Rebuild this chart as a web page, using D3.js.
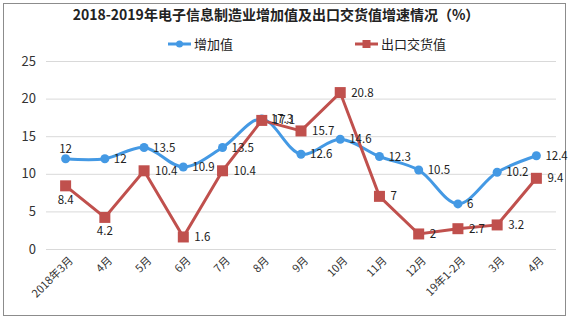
<!DOCTYPE html>
<html>
<head>
<meta charset="utf-8">
<script src="https://cdn.jsdelivr.net/npm/d3@7"></script>
<style>
  body { margin: 0; background: #fff; }
  text { font-family: "Noto Sans CJK SC", "DejaVu Sans", sans-serif; }
</style>
</head>
<body>
<div id="chart"></div>
<script>
// data
var months = ["2018年3月", "4月", "5月", "6月", "7月", "8月", "9月", "10月", "11月", "12月", "19年1-2月", "3月", "4月"];
var addedValue = [12, 12, 13.5, 10.9, 13.5, 17.3, 12.6, 14.6, 12.3, 10.5, 6, 10.2, 12.4];
var exportValue = [8.4, 4.2, 10.4, 1.6, 10.4, 17.1, 15.7, 20.8, 7, 2, 2.7, 3.2, 9.4];
var yTicks = [0, 5, 10, 15, 20, 25];

var svgWidth = 575, svgHeight = 322;
var margin = { top: 61, right: 19, bottom: 73, left: 46 };
var width = svgWidth - margin.left - margin.right;
var height = 249 - margin.top;

var blue = "#4499e4", red = "#c0504d";

var svg = d3.select("#chart").append("svg")
  .attr("width", svgWidth)
  .attr("height", svgHeight);

// outer frame
svg.append("rect")
  .attr("x", 3.5).attr("y", 3.5)
  .attr("width", 562).attr("height", 312)
  .attr("fill", "none")
  .attr("stroke", "#8c8c8c");

// title
svg.append("text")
  .attr("x", 276).attr("y", 20)
  .attr("text-anchor", "middle")
  .attr("font-size", "14px")
  .attr("font-weight", "bold")
  .attr("fill", "#222")
  .text("2018-2019年电子信息制造业增加值及出口交货值增速情况（%）");

// legend
var legendItems = [
  { name: "增加值", color: blue, x: 168, square: false },
  { name: "出口交货值", color: red, x: 355, square: true }
];
var legend = svg.selectAll(".legend")
  .data(legendItems)
  .enter().append("g")
  .attr("transform", d => `translate(${d.x}, 44)`);
legend.append("line")
  .attr("x1", 0).attr("x2", 23)
  .attr("stroke", d => d.color)
  .attr("stroke-width", 3);
legend.filter(d => !d.square).append("circle")
  .attr("cx", 11.5).attr("r", 3.5)
  .attr("fill", d => d.color);
legend.filter(d => d.square).append("rect")
  .attr("x", 7.5).attr("y", -4).attr("width", 8).attr("height", 8)
  .attr("fill", d => d.color);
legend.append("text")
  .attr("x", 26).attr("dy", "0.35em")
  .attr("font-size", "13px")
  .attr("fill", "#222")
  .text(d => d.name);

var chartGroup = svg.append("g")
  .attr("transform", `translate(${margin.left}, ${margin.top})`);

// scales
var xScale = d3.scaleBand()
  .domain(d3.range(months.length))
  .range([0, width]);

var yScale = d3.scaleLinear()
  .domain([0, 25])
  .range([height, 0]);

var cx = i => xScale(i) + xScale.bandwidth() / 2;

// gridlines + y axis
var yAxis = d3.axisLeft(yScale)
  .tickValues(yTicks)
  .tickSize(-width)
  .tickPadding(10);

var yG = chartGroup.append("g").call(yAxis);
yG.select(".domain").remove();
yG.selectAll(".tick line").attr("stroke", "#d9d9d9");
yG.selectAll(".tick text")
  .attr("font-family", "'Liberation Sans', Arial, sans-serif")
  .attr("font-size", "13px")
  .attr("fill", "#333");

// x axis labels, rotated
var xAxis = d3.axisBottom(xScale)
  .tickSize(0)
  .tickFormat(i => months[i]);

var xG = chartGroup.append("g")
  .attr("transform", `translate(0, ${height})`)
  .call(xAxis);
xG.select(".domain").remove();
xG.selectAll(".tick text")
  .attr("font-family", "'Liberation Serif', 'Noto Sans CJK SC', serif")
  .attr("font-size", "11px")
  .attr("fill", "#333")
  .attr("text-anchor", "end")
  .attr("dy", null)
  .attr("transform", "translate(6, 10) rotate(-45)");

// lines
var smoothLine = d3.line()
  .x((d, i) => cx(i))
  .y(d => yScale(d))
  .curve(d3.curveCatmullRom.alpha(0.5));

var straightLine = d3.line()
  .x((d, i) => cx(i))
  .y(d => yScale(d));

chartGroup.append("path")
  .datum(addedValue)
  .attr("d", smoothLine)
  .attr("fill", "none")
  .attr("stroke", blue)
  .attr("stroke-width", 3);

chartGroup.append("path")
  .datum(exportValue)
  .attr("d", straightLine)
  .attr("fill", "none")
  .attr("stroke", red)
  .attr("stroke-width", 3);

// markers
chartGroup.selectAll(".dotBlue")
  .data(addedValue)
  .enter().append("circle")
  .attr("cx", (d, i) => cx(i))
  .attr("cy", d => yScale(d))
  .attr("r", 4.5)
  .attr("fill", blue);

chartGroup.selectAll(".sqRed")
  .data(exportValue)
  .enter().append("rect")
  .attr("x", (d, i) => cx(i) - 5.5)
  .attr("y", d => yScale(d) - 5.5)
  .attr("width", 11)
  .attr("height", 11)
  .attr("fill", red);

// data labels
var labelFont = "'DejaVu Sans Mono', 'Liberation Mono', monospace";

chartGroup.selectAll(".lblBlue")
  .data(addedValue)
  .enter().append("text")
  .attr("x", (d, i) => i === 0 ? cx(i) : cx(i) + 9)
  .attr("y", (d, i) => i === 0 ? yScale(d) - 10 : yScale(d))
  .attr("dy", "0.35em")
  .attr("text-anchor", (d, i) => i === 0 ? "middle" : "start")
  .attr("font-family", labelFont)
  .attr("font-size", "11.5px")
  .attr("fill", "#222")
  .text(d => d);

chartGroup.selectAll(".lblRed")
  .data(exportValue)
  .enter().append("text")
  .attr("x", (d, i) => i < 2 ? cx(i) : cx(i) + 11)
  .attr("y", (d, i) => i < 2 ? yScale(d) + 14 : yScale(d))
  .attr("dy", "0.35em")
  .attr("text-anchor", (d, i) => i < 2 ? "middle" : "start")
  .attr("font-family", labelFont)
  .attr("font-size", "11.5px")
  .attr("fill", "#222")
  .text(d => d);
</script>
</body>
</html>
